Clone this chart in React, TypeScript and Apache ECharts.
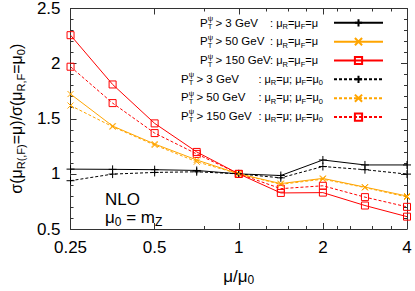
import React, { useEffect, useRef } from 'react';
import * as echarts from 'echarts';

const muRatio = [0.25, 0.3536, 0.5, 0.7071, 1, 1.4142, 2, 2.8284, 4];
const pt3Full = [1.043, 1.041, 1.038, 1.031, 1.0, 0.985, 1.126, 1.081, 1.081];
const pt50Full = [1.724, 1.434, 1.271, 1.126, 1.0, 0.912, 0.959, 0.88, 0.799];
const pt150Full = [2.258, 1.811, 1.458, 1.199, 1.0, 0.827, 0.83, 0.713, 0.612];
const pt3Ren = [0.938, 0.998, 1.013, 1.019, 1.0, 0.964, 1.067, 1.038, 0.998];
const pt50Ren = [1.62, 1.428, 1.262, 1.11, 1.0, 0.905, 0.952, 0.876, 0.79];
const pt150Ren = [1.972, 1.642, 1.37, 1.181, 1.0, 0.866, 0.892, 0.789, 0.701];

const xTicks = [0.25, 0.5, 1, 2, 4];
const xMinorTicks = [0.75, 1.25, 1.5, 1.75, 2.25, 2.5, 3, 3.5];
const ptCuts = ['3', '50', '150'];

const FONT = '"Liberation Sans", Arial, Helvetica, sans-serif';
const AXIS_COLOR = '#333';

const PLUS = 'path://M0,5L10,5M5,0L5,10';
const CROSS = 'path://M0,0L10,10M10,0L0,10';
const SQUARE = 'path://M0,0L10,0L10,10L0,10Z';

const seriesDefs = [
  { name: 'f3', data: pt3Full, color: '#000000', symbol: PLUS, size: 8, dashed: false, cut: 0, full: true },
  { name: 'f50', data: pt50Full, color: '#ffa500', symbol: CROSS, size: 6, dashed: false, cut: 1, full: true },
  { name: 'f150', data: pt150Full, color: '#ff0000', symbol: SQUARE, size: 7, dashed: false, cut: 2, full: true },
  { name: 'r3', data: pt3Ren, color: '#000000', symbol: PLUS, size: 8, dashed: true, cut: 0, full: false },
  { name: 'r50', data: pt50Ren, color: '#ffa500', symbol: CROSS, size: 6, dashed: true, cut: 1, full: false },
  { name: 'r150', data: pt150Ren, color: '#ff0000', symbol: SQUARE, size: 7, dashed: true, cut: 2, full: false },
];

const LEG_TOP = 22.7;
const LEG_STEP = 18.65;

export default function App() {
  const ref = useRef<HTMLDivElement>(null);
  useEffect(() => {
    if (!ref.current) return;
    document.body.style.margin = '0';
    const chart = echarts.init(ref.current, null, { renderer: 'svg' });

    const majorX = (position: 'bottom' | 'top', labels: boolean) => ({
      type: 'log',
      logBase: 2,
      min: 0.25,
      max: 4,
      position,
      gridIndex: 0,
      axisLine: { show: true, lineStyle: { color: AXIS_COLOR, width: 1 } },
      axisTick: { show: true, inside: true, length: 6, customValues: xTicks, lineStyle: { color: AXIS_COLOR } },
      axisLabel: {
        show: labels,
        customValues: xTicks,
        margin: 10,
        color: '#000',
        fontSize: 17,
        fontFamily: FONT,
        formatter: (v: number) => String(v),
      },
      splitLine: { show: false },
      minorTick: { show: false },
    });
    const minorX = (position: 'bottom' | 'top') => ({
      type: 'log',
      logBase: 2,
      min: 0.25,
      max: 4,
      position,
      gridIndex: 0,
      axisLine: { show: false },
      axisTick: { show: true, inside: true, length: 3, customValues: xMinorTicks, lineStyle: { color: AXIS_COLOR } },
      axisLabel: { show: false },
      splitLine: { show: false },
    });
    const yAx = (position: 'left' | 'right', labels: boolean) => ({
      type: 'value',
      min: 0.5,
      max: 2.5,
      interval: 0.5,
      position,
      axisLine: { show: true, lineStyle: { color: AXIS_COLOR, width: 1 } },
      axisTick: { show: true, inside: true, length: 6, lineStyle: { color: AXIS_COLOR } },
      minorTick: { show: true, splitNumber: 5, length: 3, lineStyle: { color: AXIS_COLOR } },
      axisLabel: { show: labels, margin: 10, color: '#000', fontSize: 17, fontFamily: FONT },
      splitLine: { show: false },
    });

    const leftY: any = yAx('left', true);
    leftY.name = '{m|σ(μ}{s|R(,F)}{m|=μ)/σ(μ}{s|R,F}{m|=μ}{s|0}{m|)}';
    leftY.nameLocation = 'middle';
    leftY.nameRotate = 90;
    leftY.nameGap = 40;
    leftY.nameTextStyle = {
      rich: {
        m: { fontSize: 16, lineHeight: 20, fontFamily: FONT, color: '#000' },
        s: { fontSize: 11, lineHeight: 11, verticalAlign: 'bottom', fontFamily: FONT, color: '#000' },
      },
    };

    const bottomX: any = majorX('bottom', true);
    bottomX.name = '{m|μ/μ}{s|0}';
    bottomX.nameLocation = 'middle';
    bottomX.nameGap = 37;
    bottomX.nameTextStyle = {
      rich: {
        m: { fontSize: 17, lineHeight: 20, fontFamily: FONT, color: '#000' },
        s: { fontSize: 12, lineHeight: 12, verticalAlign: 'bottom', fontFamily: FONT, color: '#000' },
      },
    };

    const richLeft: any = {
      t: { fontSize: 11.5, lineHeight: 16, fontFamily: FONT, fill: '#000' },
      sp: { fontSize: 7.5, lineHeight: 7.5, verticalAlign: 'top', width: 0, fontFamily: FONT, fill: '#000' },
      sb: { fontSize: 7.5, lineHeight: 7.5, verticalAlign: 'bottom', fontFamily: FONT, fill: '#000' },
    };
    const richRight: any = {
      t: { fontSize: 11, lineHeight: 16, fontFamily: FONT, fill: '#000' },
      sb: { fontSize: 7.5, lineHeight: 7.5, verticalAlign: 'bottom', fontFamily: FONT, fill: '#000' },
    };

    const legendTexts: any[] = [];
    seriesDefs.forEach((s, i) => {
      const y = LEG_TOP + i * LEG_STEP;
      legendTexts.push({
        type: 'text',
        x: s.full ? 200 : 181,
        y,
        silent: true,
        style: {
          text: `{t|P}{sp|ψ}{sb|T}{t| > ${ptCuts[s.cut]} GeV}`,
          rich: richLeft,
          align: 'left',
          verticalAlign: 'middle',
        },
      });
      legendTexts.push({
        type: 'text',
        x: s.full ? 318 : 323,
        y,
        silent: true,
        style: {
          text: s.full
            ? '{t|: μ}{sb|R}{t|=μ}{sb|F}{t|=μ}'
            : '{t|: μ}{sb|R}{t|=μ; μ}{sb|F}{t|=μ}{sb|0}',
          rich: richRight,
          align: 'right',
          verticalAlign: 'middle',
        },
      });
    });

    chart.setOption({
      animation: false,
      backgroundColor: '#fff',
      grid: { left: 63, right: 8, top: 7, bottom: 58, containLabel: false },
      xAxis: [bottomX, minorX('bottom'), majorX('top', false), minorX('top')],
      yAxis: [leftY, yAx('right', false)],
      legend: {
        orient: 'vertical',
        right: 31,
        top: LEG_TOP - 4.5,
        padding: 0,
        align: 'right',
        itemWidth: 49,
        itemHeight: 9,
        itemGap: LEG_STEP - 9,
        selectedMode: false,
        data: seriesDefs.map((s) => s.name),
        formatter: () => '',
        textStyle: { fontSize: 9, lineHeight: 9, fontFamily: FONT, color: '#000' },
      },
      graphic: [
        ...legendTexts,
        {
          type: 'text',
          left: 105,
          top: 191,
          style: { text: 'NLO', fontSize: 17, fontFamily: FONT, fill: '#000' },
        },
        {
          type: 'text',
          left: 105,
          top: 209,
          style: {
            text: '{m|μ}{s|0}{m| = m}{s|Z}',
            rich: {
              m: { fontSize: 17, lineHeight: 20, fontFamily: FONT, fill: '#000' },
              s: { fontSize: 12, lineHeight: 12, verticalAlign: 'bottom', fontFamily: FONT, fill: '#000' },
            },
          },
        },
      ],
      series: seriesDefs.map((s) => ({
        name: s.name,
        type: 'line',
        xAxisIndex: 0,
        yAxisIndex: 0,
        data: muRatio.map((x, i) => [x, s.data[i]]),
        symbol: s.symbol,
        symbolSize: s.size,
        showSymbol: true,
        lineStyle: { color: s.color, width: 1, type: s.dashed ? [3, 2] : 'solid' },
        itemStyle: { color: 'rgba(0,0,0,0)', borderColor: s.color, borderWidth: 1 },
        emphasis: { disabled: true },
        z: s.full ? 3 : 2,
      })),
    });
    return () => chart.dispose();
  }, []);
  return <div ref={ref} style={{ width: 415, height: 291 }} />;
}
